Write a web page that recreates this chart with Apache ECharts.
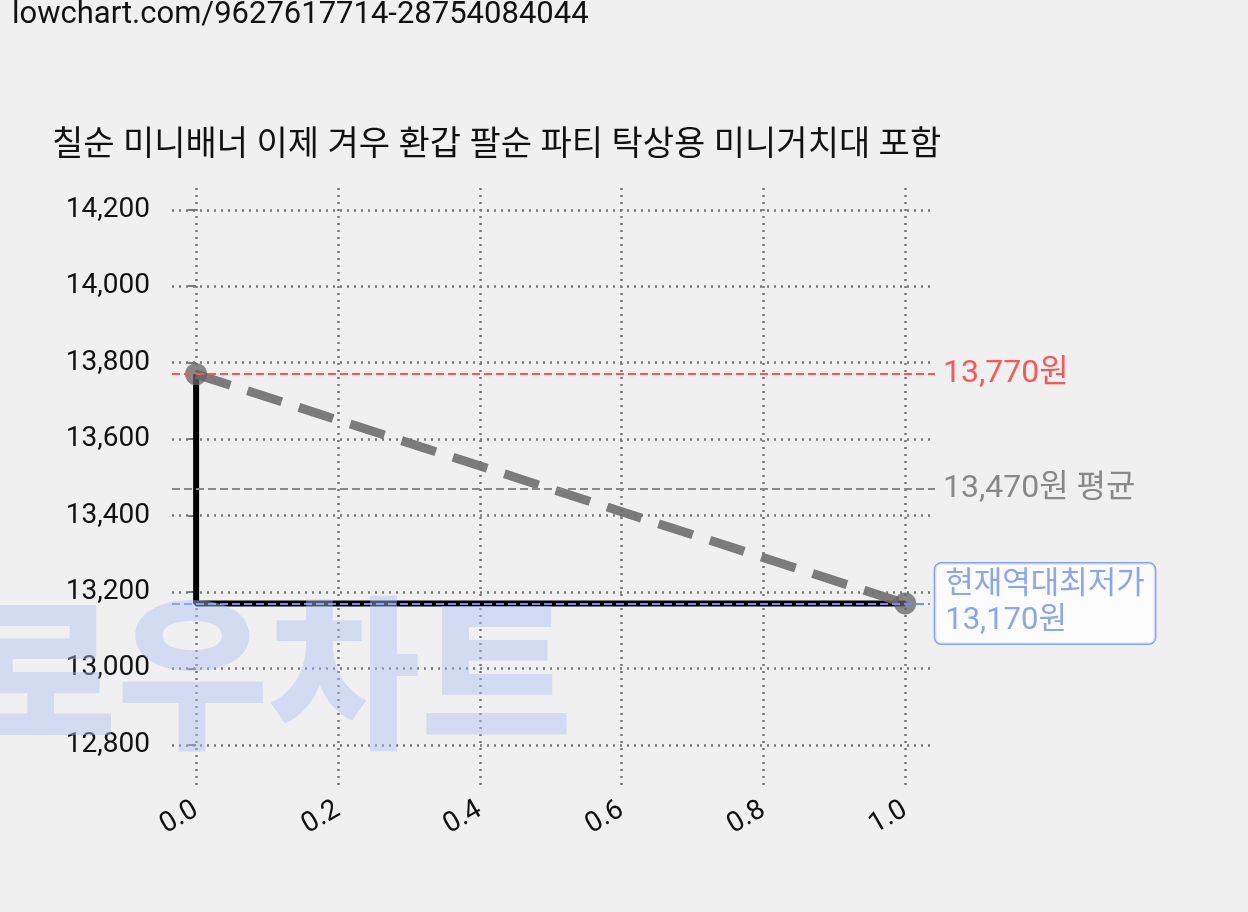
<!DOCTYPE html><html><head><meta charset="utf-8">
<script src="https://cdn.jsdelivr.net/npm/echarts@6/dist/echarts.min.js"></script>
<style>body{margin:0;background:#f0f0f0}#c{width:1248px;height:912px}</style></head><body><div id="c"></div>
<script>
const xTicks=[0,0.2,0.4,0.6,0.8,1.0];
const yTicks=[12800,13000,13200,13400,13600,13800,14000,14200];
const stepX=[0,0,1];
const stepY=[13770,13170,13170];
const trendX=[0,1];
const trendY=[13770,13170];
const maxPrice=13770, avgPrice=13470, minPrice=13170;
const F='Roboto, "Noto Sans CJK KR", sans-serif';
const c=echarts.init(document.getElementById('c'));
c.setOption({
 backgroundColor:'#f0f0f0',animation:false,
 graphic:[
  {type:'text',left:12,top:0,style:{text:'lowchart.com/9627617714-28754084044',font:'31px '+F,fill:'#111'}},
  {type:'text',left:52,top:130,style:{text:'칠순 미니배너 이제 겨우 환갑 팔순 파티 탁상용 미니거치대 포함',font:'34px '+F,fill:'#111'}},
  {type:'text',left:-35,top:590,z:100,style:{text:'로우차트',font:'900 165px "Noto Sans CJK KR"',fill:'rgba(170,195,245,0.45)'}}
 ],
 grid:{left:172,right:1248-935,top:188,bottom:912-790},
 xAxis:{type:'value',min:-0.034,max:1.042,axisLine:{show:false},
  axisTick:{show:false,customValues:xTicks},
  axisLabel:{customValues:xTicks,rotate:30,fontSize:28,color:'#111',fontFamily:F,margin:18,formatter:v=>v.toFixed(1)},
  splitLine:{show:true,lineStyle:{type:[2,5],color:'#777',width:2.5}}},
 yAxis:{type:'value',min:12682,max:14257,axisLine:{show:false},
  axisTick:{show:true,customValues:yTicks,length:8,lineStyle:{color:'#777',width:2}},
  axisLabel:{customValues:yTicks,fontSize:28,color:'#111',fontFamily:F,margin:22,formatter:v=>v.toLocaleString('en-US')},
  splitLine:{show:true,lineStyle:{type:[2,5],color:'#777',width:2.5}}},
 series:[
  {type:'line',data:stepX.map((x,i)=>[x,stepY[i]]),symbol:'none',lineStyle:{color:'#000',width:6},z:3,
   markLine:{silent:true,symbol:'none',animation:false,data:[
    [{coord:[-0.034,maxPrice]},{coord:[1.042,maxPrice],label:{show:true,position:'end',distance:8,formatter:'13,770원',color:'#f55',fontSize:32,fontFamily:F},lineStyle:{color:'#f55',type:[8,4],width:2}}],
    [{coord:[-0.034,avgPrice]},{coord:[1.042,avgPrice],label:{show:true,position:'end',distance:8,formatter:'13,470원 평균',color:'#888',fontSize:32,fontFamily:F},lineStyle:{color:'#888',type:[8,4],width:2}}],
    [{coord:[-0.034,minPrice]},{coord:[1.035,minPrice],label:{show:false},lineStyle:{color:'#6b8ff5',type:[8,4],width:2}}]
   ]}},
  {type:'line',data:trendX.map((x,i)=>[x,trendY[i]]),symbol:'circle',symbolSize:22,
   itemStyle:{color:'rgba(100,100,100,0.75)'},lineStyle:{color:'rgba(110,110,110,0.9)',width:9,type:[36,18]},z:4,
   label:{show:false}},
  {type:'scatter',data:[[1,minPrice]],symbolSize:0,z:5,
   label:{show:true,formatter:'현재역대최저가\n13,170원',position:'right',distance:30,
    color:'#6b8ff5',fontSize:31,fontFamily:F,lineHeight:36,backgroundColor:'#fff',borderColor:'#6b8ff5',borderWidth:1.5,borderRadius:6,padding:[4,10,4,10]}}
 ]
});
</script></body></html>
